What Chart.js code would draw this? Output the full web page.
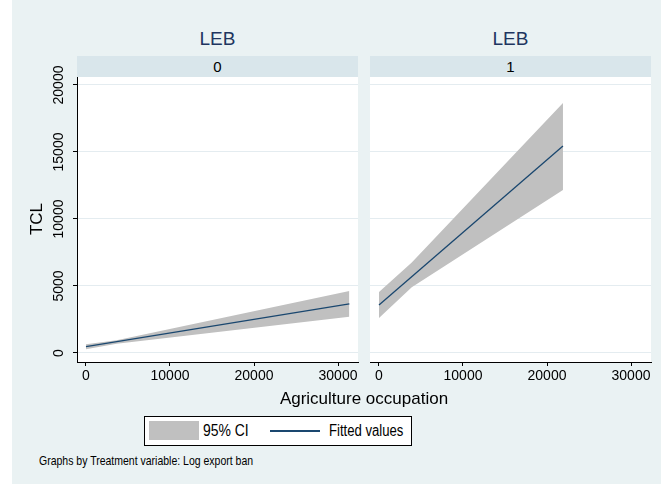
<!DOCTYPE html>
<html>
<head>
<meta charset="utf-8">
<script src="https://cdn.jsdelivr.net/npm/chart.js@4.4.1/dist/chart.umd.min.js"></script>
<style>
    body { margin: 0; width: 661px; height: 484px; background: #fff; position: relative; overflow: hidden; font-family: "Liberation Sans", Arial, sans-serif; }
    #bg { position: absolute; left: 12px; top: 0; width: 649px; height: 484px; background: #EAF2F3; }
    .abs { position: absolute; }
    .title { font-size: 19px; color: #1E3560; text-align: center; width: 281px; top: 28px; }
    .strip { background: #D9E6EB; height: 21px; width: 281px; top: 56px; font-size: 15px; text-align: center; line-height: 21px; color: #000; }
    canvas { position: absolute; }
    #legend { left: 144px; top: 416px; width: 266px; height: 28px; border: 1px solid #000; background: #fff; }
    .narrow { transform: scaleX(0.82); transform-origin: left center; white-space: nowrap; }
</style>
</head>
<body>
<div id="bg"></div>
<div class="abs title" style="left:77px">LEB</div>
<div class="abs title" style="left:370px">LEB</div>
<div class="abs strip" style="left:77px">0</div>
<div class="abs strip" style="left:370px">1</div>
<canvas id="panel0" width="360" height="360" style="left:12px; top:40px"></canvas>
<canvas id="panel1" width="303" height="360" style="left:358px; top:40px"></canvas>
<div class="abs" style="left:20px; top:209px; width:34px; text-align:center; font-size:17px; transform:rotate(-90deg);">TCL</div>
<div class="abs" style="left:0; width:728px; top:389px; text-align:center; font-size:17px;">Agriculture occupation</div>
<div id="legend" class="abs"></div>
<div class="abs" style="left:149px; top:421px; width:50px; height:19px; background:#C0C0C0;"></div>
<div class="abs narrow" style="left:203px; top:421px; font-size:17px; line-height:19px;">95% CI</div>
<div class="abs" style="left:270px; top:430px; width:50px; height:1.5px; background:#1A476F;"></div>
<div class="abs narrow" style="left:329px; top:421px; font-size:16px; line-height:19px;">Fitted values</div>
<div class="abs narrow" style="left:39px; top:453px; font-size:12.8px;">Graphs by Treatment variable: Log export ban</div>

<script>
// tick values
const xTicks = [0, 10000, 20000, 30000];
const yTicks = [0, 5000, 10000, 15000, 20000];

// LEB = 0
const ciX0 = [0, 3650, 31350];
const upper0 = [650, 950, 4630];
const lower0 = [280, 690, 2710];
const fitX0 = [0, 31350];
const fit0 = [470, 3660];

// LEB = 1
const ciX1 = [0, 3900, 21900];
const upper1 = [4550, 6750, 18660];
const lower1 = [2610, 4900, 12160];
const fitX1 = [0, 21900];
const fit1 = [3580, 15450];

const bandColor = '#C0C0C0';
const lineColor = '#1A476F';
const gridColor = '#E4ECF0';

function pts(xs, ys) {
    return xs.map((x, i) => ({ x: x, y: ys[i] }));
}

const whiteArea = {
    id: 'whiteArea',
    beforeDraw(chart) {
        const a = chart.chartArea;
        chart.ctx.save();
        chart.ctx.fillStyle = '#fff';
        chart.ctx.fillRect(a.left, a.top, a.right - a.left, a.bottom - a.top);
        chart.ctx.restore();
    }
};

function makePanel(id, ciX, upper, lower, fitX, fit, showY, pad) {
    const ctx = document.getElementById(id).getContext('2d');
    return new Chart(ctx, {
        type: 'line',
        data: {
            datasets: [{
                data: pts(ciX, upper),
                borderWidth: 0,
                pointRadius: 0,
                backgroundColor: bandColor,
                fill: '+1',
                order: 2
            }, {
                data: pts(ciX, lower),
                borderWidth: 0,
                pointRadius: 0,
                fill: false,
                order: 2
            }, {
                data: pts(fitX, fit),
                borderColor: lineColor,
                borderWidth: 1.3,
                pointRadius: 0,
                fill: false,
                order: 0
            }]
        },
        options: {
            responsive: false,
            animation: false,
            layout: { padding: pad },
            plugins: { legend: { display: false }, tooltip: { enabled: false } },
            scales: {
                x: {
                    type: 'linear',
                    min: -1070,
                    max: 32380,
                    afterBuildTicks: s => { s.ticks = xTicks.map(v => ({ value: v })); },
                    afterFit: s => { s.height = 25; s.paddingLeft = 0; s.paddingRight = 0; },
                    border: { display: true, color: '#000', width: 1 },
                    grid: { drawOnChartArea: false, drawTicks: true, tickLength: 4, tickColor: '#000' },
                    ticks: {
                        color: '#000', padding: 2, maxRotation: 0, minRotation: 0,
                        font: { family: 'Liberation Sans', size: 14 },
                        callback: v => String(v)
                    }
                },
                y: {
                    min: -672,
                    max: 20597,
                    afterBuildTicks: s => { s.ticks = yTicks.map(v => ({ value: v })); },
                    afterFit: s => { s.width = showY ? 50 : 0; s.paddingTop = 0; s.paddingBottom = 0; },
                    border: { display: showY, color: '#000', width: 1 },
                    grid: { color: gridColor, drawTicks: showY, tickLength: 4, tickColor: '#000' },
                    ticks: {
                        display: showY,
                        color: '#000',
                        minRotation: 90,
                        maxRotation: 90,
                        crossAlign: 'center',
                        padding: -6,
                        font: { family: 'Liberation Sans', size: 14 },
                        callback: v => String(v)
                    }
                }
            }
        },
        plugins: [whiteArea]
    });
}

makePanel('panel0', ciX0, upper0, lower0, fitX0, fit0, true, { left: 15, top: 37, right: 14, bottom: 13 });
makePanel('panel1', ciX1, upper1, lower1, fitX1, fit1, false, { left: 12, top: 37, right: 10, bottom: 13 });
</script>
</body>
</html>
